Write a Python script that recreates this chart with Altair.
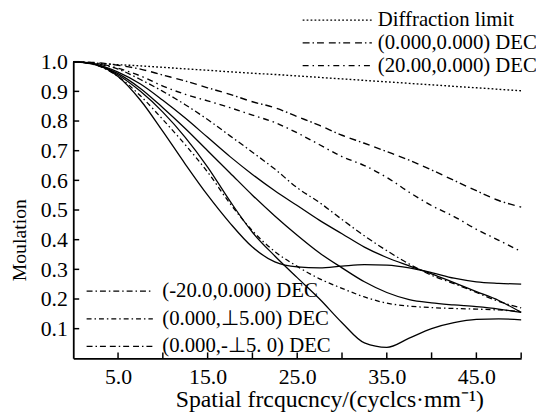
import altair as alt
import pandas as pd

# ---------------- data ----------------
freq = [0, 2.5, 5, 7.5, 10, 12.5, 15, 17.5, 20, 22.5, 25, 27.5, 30, 32.5, 35, 37.5, 40, 42.5, 45, 47.5, 50]

diffraction = [1.0, 0.995, 0.99, 0.986, 0.981, 0.976, 0.971, 0.966, 0.961, 0.957, 0.952, 0.947, 0.942, 0.937, 0.932, 0.927, 0.922, 0.917, 0.912, 0.907, 0.902]
dec_0_0 = [1.0, 0.997, 0.988, 0.975, 0.955, 0.935, 0.912, 0.89, 0.865, 0.845, 0.815, 0.785, 0.752, 0.725, 0.697, 0.668, 0.635, 0.6, 0.565, 0.532, 0.51]
dec_20_0 = [1.0, 0.995, 0.978, 0.952, 0.918, 0.89, 0.868, 0.845, 0.82, 0.795, 0.76, 0.72, 0.68, 0.65, 0.61, 0.56, 0.515, 0.478, 0.435, 0.398, 0.36]
dec_m20_0 = [1.0, 0.993, 0.975, 0.94, 0.9, 0.855, 0.805, 0.75, 0.695, 0.638, 0.575, 0.525, 0.468, 0.413, 0.363, 0.318, 0.28, 0.252, 0.222, 0.192, 0.17]
dec_0_p15 = [1.0, 0.989, 0.95, 0.885, 0.805, 0.72, 0.628, 0.522, 0.43, 0.36, 0.31, 0.268, 0.236, 0.207, 0.186, 0.176, 0.171, 0.168, 0.166, 0.163, 0.158]

# solid (tangential) curves
solid_plateau = [1.0, 0.99, 0.95, 0.87, 0.765, 0.655, 0.55, 0.456, 0.375, 0.325, 0.308, 0.305, 0.311, 0.316, 0.314, 0.305, 0.289, 0.27, 0.258, 0.253, 0.25]
solid_dip = [1.0, 0.99, 0.955, 0.9, 0.83, 0.745, 0.645, 0.53, 0.425, 0.345, 0.272, 0.2, 0.12, 0.052, 0.037, 0.068, 0.1, 0.12, 0.131, 0.133, 0.13]
solid_mid = [1.0, 0.99, 0.96, 0.91, 0.845, 0.775, 0.7, 0.625, 0.55, 0.48, 0.415, 0.355, 0.305, 0.258, 0.222, 0.198, 0.187, 0.18, 0.174, 0.166, 0.155]
solid_high = [1.0, 0.992, 0.965, 0.925, 0.87, 0.81, 0.745, 0.68, 0.62, 0.565, 0.515, 0.465, 0.42, 0.375, 0.34, 0.312, 0.285, 0.255, 0.225, 0.195, 0.155]

top_names = ["Diffraction limit", "(0.000,0.000) DEC", "(20.00,0.000) DEC"]
bottom_names = ["(-20.0,0.000) DEC", "(0.000,\u22a55.00) DEC", "(0.000,-\u22a55. 0) DEC"]

x_tick_labels = [5, 15, 25, 35, 45]
x_tick_marks = [5, 10, 15, 20, 25, 30, 35, 40, 45, 50]
y_tick_values = [0.1, 0.2, 0.3, 0.4, 0.5, 0.6, 0.7, 0.8, 0.9, 1.0]

FONT = "Liberation Serif"


def frame(series_map):
    rows = []
    for name, vals in series_map:
        for f, v in zip(freq, vals):
            rows.append({"freq": f, "mtf": v, "series": name})
    return pd.DataFrame(rows)


top_df = frame([(top_names[0], diffraction), (top_names[1], dec_0_0), (top_names[2], dec_20_0)])
bottom_df = frame([(bottom_names[0], dec_m20_0), (bottom_names[1], dec_0_p15)])
solid_df = frame([("T1", solid_plateau), ("T2", solid_dip), ("T3", solid_mid), ("T4", solid_high)])

X = alt.X(
    "freq:Q",
    scale=alt.Scale(domain=[0, 50], nice=False, zero=False),
    axis=alt.Axis(
        values=x_tick_labels, format=".1f", ticks=False, tickSize=0, grid=False,
        title="Spatial frcqucncy/(cyclcs\u00b7mm\u207b\u00b9)",
        labelPadding=8, labelFontSize=22,
        titleX=259, titleY=49, titleBaseline="alphabetic", titleFontSize=24,
        domainWidth=1.8, domainColor="black",
    ),
)
Y = alt.Y(
    "mtf:Q",
    scale=alt.Scale(domain=[0, 1.0], nice=False),
    axis=alt.Axis(
        values=y_tick_values, format=".1f", ticks=False, tickSize=0, grid=False,
        title="Moulation", labelPadding=6, labelFontSize=22,
        titleAngle=270, titleX=-54, titleY=180, titleFontSize=20,
        titleBaseline="middle", titleAlign="center",
        domainWidth=1.8, domainColor="black",
    ),
)

solid = alt.Chart(solid_df).mark_line(color="black", strokeWidth=1.3, interpolate="monotone").encode(
    x=X, y=Y, detail="series:N"
)

top = alt.Chart(top_df).mark_line(color="black", strokeWidth=1.4, interpolate="monotone").encode(
    x=X, y=Y,
    strokeDash=alt.StrokeDash(
        "series:N",
        scale=alt.Scale(domain=top_names, range=[[1.8, 2.2], [7, 3, 1.5, 3, 7, 5], [6, 4, 1.5, 4]]),
        legend=alt.Legend(
            title=None, orient="none", legendX=256, legendY=-53,
            symbolType="M-3.5,0H3.5", symbolSize=400, symbolStrokeWidth=1.3,
            symbolStrokeColor="black", labelFont=FONT, labelFontSize=21, labelColor="black",
            labelOffset=30, labelLimit=400, rowPadding=2, padding=0,
        ),
    ),
)

bottom = alt.Chart(bottom_df).mark_line(color="black", strokeWidth=1.3, interpolate="monotone").encode(
    x=X, y=Y,
    strokeDash=alt.StrokeDash(
        "series:N",
        scale=alt.Scale(domain=bottom_names, range=[[6, 3, 1.5, 3], [5, 3, 1.5, 3], [6, 3, 1.5, 3, 6, 4]]),
        legend=alt.Legend(
            title=None, orient="none", legendX=36, legendY=221,
            symbolType="M-3.35,0H3.35", symbolSize=400, symbolStrokeWidth=1.3,
            symbolStrokeColor="black", labelFont=FONT, labelFontSize=21, labelColor="black",
            labelOffset=32, labelLimit=400, rowPadding=7, padding=0,
        ),
    ),
)

ytick_df = pd.DataFrame({"mtf": y_tick_values})
xtick_df = pd.DataFrame({"freq": x_tick_marks})
yticks = alt.Chart(ytick_df).mark_rule(color="black", strokeWidth=1.5).encode(
    y=Y, x=alt.value(0), x2=alt.value(6)
)
xticks = alt.Chart(xtick_df).mark_rule(color="black", strokeWidth=1.5).encode(
    x=X, y=alt.value(300), y2=alt.value(294)
)

chart = (
    alt.layer(solid, top, bottom, yticks, xticks)
    .resolve_scale(strokeDash="independent")
    .resolve_legend(strokeDash="independent")
    .properties(
        width=453, height=300,
        autosize=alt.AutoSizeParams(type="none"),
        padding={"left": 66, "top": 52, "right": 15, "bottom": 55},
        background="white",
    )
    .configure_view(stroke=None)
    .configure_axis(
        labelFont=FONT, labelColor="black",
        titleFont=FONT, titleColor="black", titleFontWeight="normal",
    )
)

chart.save("out.html", embed_options={"renderer": "svg", "actions": False})
